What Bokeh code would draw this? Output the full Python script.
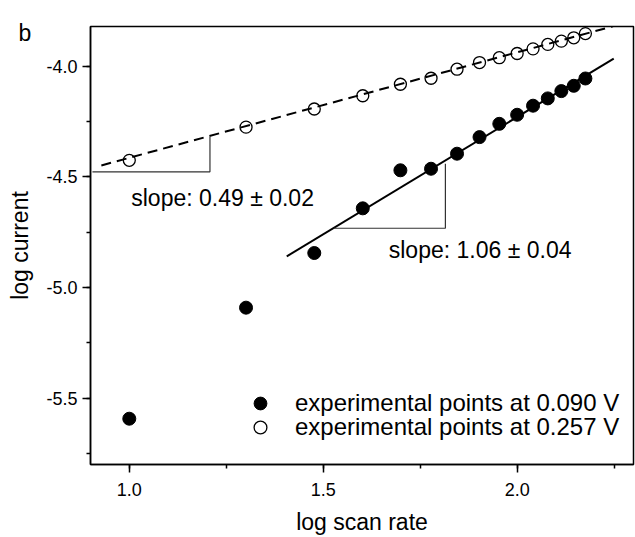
from bokeh.plotting import figure
from bokeh.models import (Range1d, SingleIntervalTicker, Label, Legend, LegendItem,
                          PrintfTickFormatter)
from bokeh.embed import file_html
from bokeh.resources import INLINE

# ---- data ----
log_scan_rate = [1.000, 1.301, 1.477, 1.602, 1.699, 1.778, 1.845, 1.903,
                 1.954, 2.000, 2.041, 2.079, 2.114, 2.146, 2.176]
log_current_090 = [-5.593, -5.091, -4.844, -4.642, -4.470, -4.463, -4.395, -4.320,
                   -4.260, -4.219, -4.178, -4.145, -4.112, -4.088, -4.055]
log_current_257 = [-4.425, -4.275, -4.193, -4.133, -4.081, -4.054, -4.013, -3.983,
                   -3.961, -3.942, -3.921, -3.901, -3.886, -3.871, -3.852]

# linear fits (end points)
fit_090_x = [1.406, 2.249]
fit_090_y = [-4.859, -3.965]
fit_257_x = [0.928, 2.247]
fit_257_y = [-4.448, -3.819]

# slope triangles
tri_257_x = [0.905, 1.208, 1.208]
tri_257_y = [-4.477, -4.477, -4.318]
tri_090_x = [1.527, 1.815, 1.815]
tri_090_y = [-4.732, -4.732, -4.440]

slope_labels = ["slope: 0.49 \u00b1 0.02", "slope: 1.06 \u00b1 0.04"]
slope_label_x = [1.005, 1.669]
slope_label_y = [-4.597, -4.829]

legend_labels = ["experimental points at 0.090 V", "experimental points at 0.257 V"]
panel_letter = "b"

FONT = "Liberation Sans"

p = figure(width=635, height=537, output_backend="svg", toolbar_location=None,
           x_range=Range1d(0.9, 2.3), y_range=Range1d(-5.8, -3.82),
           min_border_left=90, min_border_right=2, min_border_top=23,
           min_border_bottom=70)
p.background_fill_color = "white"
p.border_fill_color = "white"
p.grid.visible = False
p.outline_line_color = "black"
p.outline_line_width = 1.5

for ax in (p.xaxis[0], p.yaxis[0]):
    ax.axis_line_width = 1.5
    ax.major_tick_line_width = 1.5
    ax.minor_tick_line_width = 1.5
    ax.major_tick_in = 0
    ax.major_tick_out = 8
    ax.minor_tick_in = 0
    ax.minor_tick_out = 4
    ax.major_label_text_font = FONT
    ax.major_label_text_font_size = "18px"
    ax.major_label_text_color = "black"
    ax.axis_label_text_font = FONT
    ax.axis_label_text_font_size = "23px"
    ax.axis_label_text_font_style = "normal"
    ax.axis_label_text_color = "black"
    ax.formatter = PrintfTickFormatter(format="%.1f")

p.xaxis[0].ticker = SingleIntervalTicker(interval=0.5, num_minor_ticks=2)
p.yaxis[0].ticker = SingleIntervalTicker(interval=0.5, num_minor_ticks=2)
p.xaxis[0].axis_label = "log scan rate"
p.yaxis[0].axis_label = "log current"
p.xaxis[0].major_label_standoff = 10
p.yaxis[0].major_label_standoff = 5
p.xaxis[0].axis_label_standoff = 10
p.yaxis[0].axis_label_standoff = 10
p.yaxis[0].major_label_orientation = "horizontal"

# fit lines
p.line(fit_257_x, fit_257_y, line_color="black", line_width=2, line_dash="10 6")
p.line(fit_090_x, fit_090_y, line_color="black", line_width=2)

# slope triangles
p.line(tri_257_x, tri_257_y, line_color="#333333", line_width=1.2)
p.line(tri_090_x, tri_090_y, line_color="#333333", line_width=1.2)

# points
r_filled = p.scatter(log_scan_rate, log_current_090, marker="circle", size=13,
                     fill_color="black", line_color="black")
r_open = p.scatter(log_scan_rate, log_current_257, marker="circle", size=12,
                   fill_color=None, line_color="black", line_width=1.3)

for t, x, y in zip(slope_labels, slope_label_x, slope_label_y):
    p.add_layout(Label(x=x, y=y, text=t, text_font=FONT, text_font_size="23px",
                       text_color="black", text_baseline="alphabetic"))

# legend: one single-row legend per series so the marker box can be large
for lab, rend, loc in zip(legend_labels, [r_filled, r_open], [(154, 45), (154, 21)]):
    leg = Legend(items=[LegendItem(label=lab, renderers=[rend])],
                 location=loc, orientation="vertical",
                 border_line_color=None, background_fill_alpha=0,
                 padding=0, margin=0, spacing=0,
                 glyph_width=32, glyph_height=32, label_height=20,
                 label_standoff=19,
                 label_text_font=FONT, label_text_font_size="24px",
                 label_text_color="black")
    p.add_layout(leg)

# panel letter, placed in the top side panel so it is not clipped to the frame
p.add_layout(Label(x=-72, y=-6, x_units="screen", y_units="screen", text=panel_letter,
                   text_font=FONT, text_font_size="23px", text_color="black",
                   text_baseline="alphabetic"), "above")

open("out.html", "w").write(file_html(p, INLINE))
